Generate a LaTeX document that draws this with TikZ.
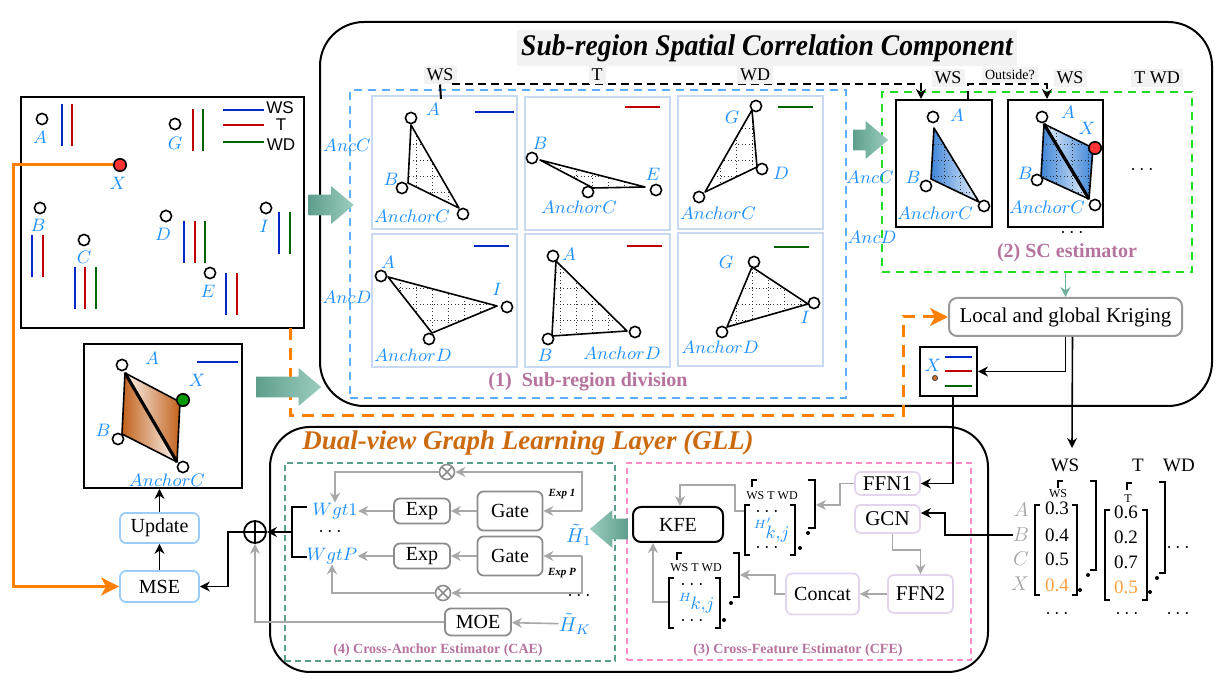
\documentclass[tikz,border=0pt]{standalone}
\usepackage{fontspec}
\usepackage{graphicx}
\setmainfont{Liberation Serif}
\newfontfamily\legfont{Liberation Sans}
\usetikzlibrary{positioning,calc,arrows.meta,shapes.arrows}

\definecolor{txtblue}{HTML}{1E90FF}
\definecolor{lnblue}{HTML}{0028C8}
\definecolor{lnred}{HTML}{C00000}
\definecolor{lngreen}{HTML}{006400}
\definecolor{xred}{HTML}{FF3333}
\definecolor{xgreen}{HTML}{009A00}
\definecolor{tealdk}{HTML}{5E9E8C}
\definecolor{teallt}{HTML}{9CCDC0}
\definecolor{tealarr}{HTML}{6FB0A0}
\definecolor{pinktxt}{HTML}{B5739D}
\definecolor{orangeln}{HTML}{FF8000}
\definecolor{xorange}{HTML}{E07020}
\definecolor{glltitle}{HTML}{CC6A10}
\definecolor{grayln}{HTML}{A8A8A8}
\definecolor{lblbg}{HTML}{F2F2F2}
\definecolor{panelbd}{HTML}{C8DAF2}
\definecolor{dashblue}{HTML}{5CAEFF}
\definecolor{dashgreen}{HTML}{22DD22}
\definecolor{dashteal}{HTML}{5A9E8E}
\definecolor{dashpink}{HTML}{FF8CC6}
\definecolor{boxblue}{HTML}{9ACDF8}
\definecolor{boxpurple}{HTML}{E3D5EE}
\definecolor{gatebd}{HTML}{8C8C8C}
\definecolor{krigbd}{HTML}{9A9A9A}
\definecolor{trifill}{HTML}{3F86D8}
\definecolor{quadfill}{HTML}{C2621C}
\definecolor{valorange}{HTML}{FFA040}

\tikzset{
  stn/.style={circle, draw=black, line width=0.8pt, fill=white, inner sep=0pt, minimum size=5.6pt},
  lbl/.style={text=txtblue, inner sep=0pt, font=\fontsize{9}{9}\selectfont},
  leg/.style={inner sep=0pt, font=\legfont\fontsize{8.5}{8.5}\selectfont},
  sbar/.style={line width=1pt},
  triln/.style={line width=0.8pt, line join=round},
  gridln/.style={line width=0.45pt, black!80, dash pattern=on 0.45pt off 1.3pt, step=8pt},
  panel/.style={draw=panelbd, line width=1pt, minimum width=72.5pt, minimum height=66.5pt, inner sep=0pt},
  fatarr/.style={single arrow, draw=none, inner sep=5pt, single arrow head extend=4.25pt,
    single arrow tip angle=80, left color=tealdk, right color=teallt},
  graybg/.style={fill=lblbg, inner sep=1.5pt, font=\fontsize{9}{9}\selectfont},
  dsh/.style={line width=0.8pt, dash pattern=on 4pt off 2.5pt},
  blk/.style={line width=0.8pt, -{Stealth[length=5pt,width=5pt]}},
  gry/.style={line width=0.8pt, color=grayln, -{Stealth[length=5pt,width=5pt]}},
  brk/.style={line width=0.9pt},
  bbox/.style={draw=boxblue, rounded corners=3pt, line width=0.9pt, inner sep=1pt, font=\fontsize{10}{10}\selectfont},
  gbox/.style={draw=gatebd, rounded corners=3pt, line width=0.9pt, inner sep=1pt, font=\fontsize{10}{10}\selectfont},
  pbox/.style={draw=boxpurple, rounded corners=3pt, line width=0.9pt, inner sep=1pt, font=\fontsize{10.5}{10.5}\selectfont},
  pinklbl/.style={text=pinktxt, inner sep=0pt, font=\fontsize{10}{10}\selectfont\bfseries},
  tinytxt/.style={inner sep=0pt, font=\fontsize{6}{6}\selectfont},
  oplusnd/.style={circle, draw, line width=0.9pt, minimum size=11pt, inner sep=0pt,
    path picture={\draw[line width=0.9pt] (path picture bounding box.north) -- (path picture bounding box.south)
      (path picture bounding box.west) -- (path picture bounding box.east);}},
  otimesnd/.style={circle, draw=gatebd, line width=0.8pt, minimum size=7.5pt, inner sep=0pt,
    path picture={\draw[gatebd, line width=0.8pt] (path picture bounding box.north west) -- (path picture bounding box.south east)
      (path picture bounding box.south west) -- (path picture bounding box.north east);}},
}

% dotted grid clipped to a region
\newcommand{\dotin}[1]{%
  \begin{scope}
    \clip #1;
    \draw[gridln] (0,683) grid (1223,0);
  \end{scope}}
\newcommand{\dottri}[3]{%
  \dotin{(#1) -- (#2) -- (#3) -- cycle}
  \draw[triln] (#1) -- (#2) -- (#3) -- cycle;}

\begin{document}
\begin{tikzpicture}[x=0.5pt,y=-0.5pt]
\useasboundingbox (0,0) rectangle (1223,683);

% ---------------- map of stations
\node[draw, line width=1pt, minimum width=141.5pt, minimum height=115.5pt, inner sep=0pt] (map) at (162.5,212.5) {};
\foreach \x/\ya/\c in {62/104/lnblue, 72/104/lnred, 193/109/lnred, 203/109/lngreen,
  32/235/lnblue, 43/235/lnred, 75/267/lnblue, 85/267/lnred, 96/267/lngreen,
  184/221/lnblue, 195/221/lnred, 205/221/lngreen, 226/273/lnblue, 237/273/lnred,
  279/212/lnblue, 290/212/lngreen}
  \draw[sbar,\c] (\x,\ya) -- (\x,\ya+42);
\draw[sbar,lnblue] (223,110) -- (264,110); \node[leg] (lgWS) at (280,108) {WS};
\draw[sbar,lnred] (223,125) -- (264,125); \node[leg] (lgT) at (281,125) {T};
\draw[sbar,lngreen] (223,142) -- (264,142); \node[leg] (lgWD) at (281,145) {WD};

\node[stn, fill=xred, minimum size=6.2pt] (mX) at (120,165) {};
\coordinate (oc1) at (13,165);
\node[stn] (mA) at (42,119) {};  \node[lbl] (lmA) at (40,137) {$A$};
\node[stn] (mG) at (175,124) {}; \node[lbl] (lmG) at (175,143) {$G$};
\node[lbl] (lmX) at (118,183) {$X$};
\node[stn] (mB) at (40,208) {};  \node[lbl] (lmB) at (38,225) {$B$};
\node[stn] (mC) at (84,240) {};  \node[lbl] (lmC) at (84,257) {$C$};
\node[stn] (mD) at (166,216) {}; \node[lbl] (lmD) at (163,234) {$D$};
\node[stn] (mE) at (210,273) {}; \node[lbl] (lmE) at (208,291) {$E$};
\node[stn] (mI) at (266,208) {}; \node[lbl] (lmI) at (264,226) {$I$};

% ---------------- sub-region spatial correlation component
\node[draw, line width=1pt, rounded corners=22pt, minimum width=446pt, minimum height=192pt, inner sep=0pt] (scc) at (766,214) {};
\node[fill=lblbg, inner sep=2pt, font=\fontsize{15}{15}\selectfont\bfseries\itshape] (scctitle) at (767,48)
  {\scalebox{0.92}[1]{Sub-region Spatial Correlation Component}};

\node[draw=dashblue, line width=1pt, dash pattern=on 4pt off 3pt, minimum width=248pt, minimum height=154pt, inner sep=0pt] (subbox) at (598,244) {};
\node[panel] (pn1) at (444.5,162.5) {};
\node[panel] (pn2) at (597,163.5) {};
\node[panel] (pn3) at (750,162.5) {};
\node[panel] (pn4) at (444.5,300.5) {};
\node[panel] (pn5) at (597,300.5) {};
\node[panel] (pn6) at (750,300) {};

% panel 1
\coordinate (t1a) at (411,125); \coordinate (t1b) at (408,183); \coordinate (t1c) at (459,208);
\dottri{t1a}{t1b}{t1c}
\node[stn] (s1a) at (411,118) {}; \node[stn] (s1b) at (402,188) {}; \node[stn] (s1c) at (463,214) {};
\node[lbl] (l1a) at (433,109) {$A$}; \node[lbl] (l1b) at (391,179) {$B$}; \node[lbl] (l1c) at (412,216) {$AnchorC$};
\draw[sbar,lnblue] (475,112) -- (514,112);
% panel 2
\coordinate (t2a) at (540,160); \coordinate (t2b) at (593,188); \coordinate (t2c) at (645,187);
\dottri{t2a}{t2b}{t2c}
\node[stn] (s2a) at (532,158) {}; \node[stn] (s2b) at (588,192) {}; \node[stn] (s2c) at (656,190) {};
\node[lbl] (l2a) at (540,143) {$B$}; \node[lbl] (l2b) at (579,207) {$AnchorC$}; \node[lbl] (l2c) at (653,174) {$E$};
\draw[sbar,lnred] (625,107) -- (660,107);
% panel 3
\coordinate (t3a) at (752,110); \coordinate (t3b) at (757,167); \coordinate (t3c) at (705,192);
\dottri{t3a}{t3b}{t3c}
\node[stn] (s3a) at (756,106) {}; \node[stn] (s3b) at (762,169) {}; \node[stn] (s3c) at (699,197) {};
\node[lbl] (l3a) at (732,117) {$G$}; \node[lbl] (l3b) at (781,173) {$D$}; \node[lbl] (l3c) at (718,213) {$AnchorC$};
\draw[sbar,lngreen] (778,107) -- (813,107);
% panel 4
\coordinate (t4a) at (388,277); \coordinate (t4b) at (497,306); \coordinate (t4c) at (432,333);
\dottri{t4a}{t4b}{t4c}
\node[stn] (s4a) at (381,276) {}; \node[stn] (s4b) at (507,307) {}; \node[stn] (s4c) at (429,339) {};
\node[lbl] (l4a) at (388,262) {$A$}; \node[lbl] (l4b) at (497,289) {$I$}; \node[lbl] (l4c) at (413,355) {$AnchorD$};
\draw[sbar,lnblue] (474,246) -- (509,246);
% panel 5
\coordinate (t5a) at (556,261); \coordinate (t5b) at (552,336); \coordinate (t5c) at (627,331);
\dottri{t5a}{t5b}{t5c}
\node[stn] (s5a) at (553,256) {}; \node[stn] (s5b) at (548,339) {}; \node[stn] (s5c) at (635,332) {};
\node[lbl] (l5a) at (569,254) {$A$}; \node[lbl] (l5b) at (545,355) {$B$}; \node[lbl] (l5c) at (622,353) {$AnchorD$};
\draw[sbar,lnred] (627,246) -- (662,246);
% panel 6
\coordinate (t6a) at (752,267); \coordinate (t6b) at (808,304); \coordinate (t6c) at (727,327);
\dottri{t6a}{t6b}{t6c}
\node[stn] (s6a) at (754,262) {}; \node[stn] (s6b) at (814,303) {}; \node[stn] (s6c) at (722,332) {};
\node[lbl] (l6a) at (726,262) {$G$}; \node[lbl] (l6b) at (805,317) {$I$}; \node[lbl] (l6c) at (720,347) {$AnchorD$};
\draw[sbar,lngreen] (774,247) -- (809,247);

\node[lbl] (ancc1) at (347,145) {$AncC$};
\node[lbl] (ancd1) at (347,297) {$AncD$};
\node[pinklbl] (subttl) at (588,382) {(1)\ \ Sub-region division};

% SC estimator
\node[draw=dashgreen, line width=1pt, dash pattern=on 4pt off 3pt, minimum width=155pt, minimum height=90pt, inner sep=0pt] (scest) at (1037,182) {};
\node[draw, line width=1pt, minimum width=48pt, minimum height=63.5pt, inner sep=0pt] (scb1) at (944,163.5) {};
\node[draw, line width=1pt, minimum width=47.5pt, minimum height=63.5pt, inner sep=0pt] (scb2) at (1055.5,163.5) {};
\coordinate (q1a) at (934,128); \coordinate (q1b) at (931,179); \coordinate (q1c) at (979,202);
\shade[left color=trifill, right color=trifill!12] (q1a) -- (q1b) -- (q1c) -- cycle;
\dottri{q1a}{q1b}{q1c}
\node[stn] (c1a) at (933,117) {}; \node[stn] (c1b) at (926,186) {}; \node[stn] (c1c) at (984,206) {};
\node[lbl] (k1a) at (957,115) {$A$}; \node[lbl] (k1b) at (913,177) {$B$}; \node[lbl] (k1c) at (935,213) {$AnchorC$};
\coordinate (q2a) at (1044,124); \coordinate (q2x) at (1093,148); \coordinate (q2c) at (1089,199); \coordinate (q2b) at (1041,177);
\shade[left color=trifill, right color=trifill!12] (q2a) -- (q2b) -- (q2c) -- cycle;
\shade[left color=trifill!12, right color=trifill] (q2a) -- (q2x) -- (q2c) -- cycle;
\dotin{(q2a) -- (q2x) -- (q2c) -- (q2b) -- cycle}
\draw[triln] (q2a) -- (q2x) -- (q2c) -- (q2b) -- cycle;
\draw[line width=1.6pt] (q2a) -- (q2c);
\node[stn] (c2a) at (1042,117) {}; \node[stn] (c2b) at (1037,180) {}; \node[stn] (c2c) at (1095,205) {};
\node[stn, fill=xred, minimum size=6.2pt] (c2x) at (1095,148) {};
\node[lbl] (k2a) at (1068,112) {$A$}; \node[lbl] (k2x) at (1087,128) {$X$}; \node[lbl] (k2b) at (1025,173) {$B$}; \node[lbl] (k2c) at (1047,207) {$AnchorC$};
\node[inner sep=0pt] (scdots1) at (1142,170) {$\cdots$};
\node[inner sep=0pt] (scdots2) at (1072,233) {$\cdots$};
\node[pinklbl] (scttl) at (1067,253) {(2) SC estimator};
\node[lbl] (ancc2) at (870,177) {$AncC$};
\node[lbl] (ancd2) at (872,237) {$AncD$};

% labels and dashed feature links on top
\node[graybg] (tWS) at (440,75) {WS};
\coordinate (dd0) at (452,84); \coordinate (dd1) at (921,84);
\draw[dsh, -{Stealth[length=5pt,width=5pt]}] (dd0) -- (dd1) -- (scb1.north -| dd1);
\coordinate (tk) at (441,99);
\draw[line width=1pt] (tWS.south) -- (tk);
\node[graybg] (tT) at (597,75) {T};
\node[graybg] (tWD) at (755,75) {WD};
\coordinate (dd2) at (968,84); \coordinate (dd3) at (1047,84);
\draw[dsh, -{Stealth[length=5pt,width=5pt]}] (scb1.north -| dd2) -- (dd2) -- (dd3) -- (scb2.north -| dd3);
\node[graybg] (tWS2) at (948,78) {WS};
\node[graybg, font=\fontsize{7}{7}\selectfont] (tOut) at (1010,75) {Outside?};
\node[graybg] (tWS3) at (1070,78) {WS};
\node[graybg] (tTWD) at (1157,78) {T WD};

% kriging
\node[draw=krigbd, rounded corners=4pt, line width=1pt, minimum width=116.5pt, minimum height=19pt, inner sep=1pt,
  font=\fontsize{10.5}{10.5}\selectfont] (krig) at (1065.5,317) {Local and global Kriging};
\draw[line width=0.9pt, color=tealarr, -{Stealth[length=5pt,width=5pt]}] (krig.north |- scest.south) -- (krig.north);
\node[draw, line width=1pt, minimum width=28.5pt, minimum height=24.5pt, inner sep=0pt] (xbox) at (948.5,371.5) {};
\node[lbl] (xlbl) at (933,365) {$X$};
\node[circle, fill=xorange, draw=black!70, line width=0.5pt, inner sep=0pt, minimum size=2.5pt] (xdot) at (935,378) {};
\draw[sbar,lnblue] (945,357) -- (972,357);
\draw[sbar,lnred] (945,371) -- (972,371);
\draw[sbar,lngreen] (945,386) -- (972,386);
\draw[blk] (krig.south) |- (xbox);
\coordinate (mtop) at (1072,448);
\draw[blk] ([xshift=3.5pt]krig.south) -- (mtop);

% orange links
\coordinate (od1) at (290,328); \coordinate (od2) at (903,416);
\draw[orangeln, line width=1.5pt, dash pattern=on 6pt off 4pt, -{Stealth[length=9pt,width=9pt,inset=2.5pt]}]
  (od1) |- (od2) |- (krig.west);

% ---------------- updated sub-region
\node[draw, line width=1pt, minimum width=79pt, minimum height=72pt, inner sep=0pt] (blbox) at (163,416) {};
\coordinate (q3a) at (125,373); \coordinate (q3x) at (180,402); \coordinate (q3c) at (177,462); \coordinate (q3b) at (122,434);
\shade[left color=quadfill, right color=quadfill!6] (q3a) -- (q3b) -- (q3c) -- cycle;
\shade[left color=quadfill!6, right color=quadfill] (q3a) -- (q3x) -- (q3c) -- cycle;
\draw[triln] (q3a) -- (q3x) -- (q3c) -- (q3b) -- cycle;
\draw[line width=1.6pt] (q3a) -- (q3c);
\node[stn] (b3a) at (122,365) {}; \node[stn] (b3b) at (118,439) {}; \node[stn] (b3c) at (183,467) {};
\node[stn, fill=xgreen, minimum size=6.2pt] (b3x) at (183,400) {};
\node[lbl] (u3a) at (152,358) {$A$}; \node[lbl] (u3x) at (197,380) {$X$}; \node[lbl] (u3b) at (103,430) {$B$}; \node[lbl] (u3c) at (167,480) {$AnchorC$};
\draw[sbar,lnblue] (197,362) -- (238,362);

\node[bbox, minimum width=39.5pt, minimum height=15pt] (upd) at (159.5,528) {Update};
\node[bbox, minimum width=39.5pt, minimum height=15.5pt] (mse) at (159.5,586.5) {MSE};
\draw[blk] (upd.north) -- (upd.north |- blbox.south);
\draw[blk] (mse) -- (upd);
\draw[orangeln, line width=1.5pt, -{Stealth[length=9pt,width=9pt,inset=2.5pt]}] (mX) -- (oc1) |- (mse);

% ---------------- dual-view graph learning layer
\node[draw, line width=1pt, rounded corners=20pt, minimum width=359pt, minimum height=122.5pt, inner sep=0pt] (gll) at (629,549.5) {};
\node[text=glltitle, inner sep=0pt, font=\fontsize{13.5}{13.5}\selectfont\bfseries\itshape] (glltitle) at (528,443) {Dual-view Graph Learning Layer (GLL)};
\node[draw=dashteal, line width=0.8pt, dash pattern=on 3pt off 2pt, minimum width=165pt, minimum height=99pt, inner sep=0pt] (cae) at (450,562) {};
\node[draw=dashpink, line width=0.8pt, dash pattern=on 3pt off 2pt, minimum width=172pt, minimum height=98.5pt, inner sep=0pt] (cfe) at (799,561.5) {};
\node[pinklbl, font=\fontsize{7}{7}\selectfont\bfseries] (caettl) at (438,650) {(4) Cross-Anchor Estimator (CAE)};
\node[pinklbl, font=\fontsize{7}{7}\selectfont\bfseries] (cfettl) at (798,650) {(3) Cross-Feature Estimator (CFE)};

% cross-anchor estimator
\node[otimesnd] (otop) at (447,472) {};
\node[otimesnd] (obot) at (443,593) {};
\node[gbox, minimum width=32.5pt, minimum height=19.5pt] (gate1) at (510,511) {Gate};
\node[gbox, minimum width=32.5pt, minimum height=19.5pt] (gate2) at (510,556) {Gate};
\node[gbox, minimum width=28pt, minimum height=12.5pt] (exp1) at (422,511) {Exp};
\node[gbox, minimum width=28pt, minimum height=12.5pt] (exp2) at (422,556) {Exp};
\node[gbox, minimum width=33pt, minimum height=13.5pt] (moe) at (478,622) {MOE};
\node[lbl, font=\fontsize{9.5}{9.5}\selectfont] (wgt1) at (335,511) {$Wgt1$};
\node[inner sep=0pt] (wgtd) at (330,532) {$\cdots$};
\node[lbl, font=\fontsize{9.5}{9.5}\selectfont] (wgtp) at (332,556) {$WgtP$};
\node[lbl, font=\fontsize{10}{10}\selectfont] (h1) at (579,535) {$\tilde{H}_1$};
\node[inner sep=0pt] (hdots) at (579,596) {$\cdots$};
\node[lbl, font=\fontsize{10}{10}\selectfont] (hK) at (575,624) {$\tilde{H}_K$};
\node[inner sep=0pt, font=\fontsize{5.5}{5.5}\selectfont\bfseries\itshape] (ex1) at (562,494) {Exp 1};
\node[inner sep=0pt, font=\fontsize{5.5}{5.5}\selectfont\bfseries\itshape] (exP) at (562,573) {Exp P};
\coordinate (sp2) at (582,511); \coordinate (sp3) at (582,556);
\draw[gry] (sp2) |- (otop);
\draw[gry] (sp2) -- (gate1);
\draw[gry] (sp3) -- (gate2);
\draw[gry] (sp3) |- (obot);
\draw[gry] (gate1) -- (exp1);
\draw[gry] (exp1) -- (wgt1);
\draw[gry] (gate2) -- (exp2);
\draw[gry] (exp2) -- (wgtp);
\draw[gry] (otop) -| (wgt1);
\draw[gry] (obot) -| (wgtp);
\draw[gry] (hK) -- (moe);
\node[oplusnd] (oplus) at (255,532) {};
\draw[gry] (moe) -| (oplus);
\coordinate (br1) at (307,507); \coordinate (brm) at (292,532); \coordinate (br2) at (307,557);
\draw[line width=0.9pt] (br1) -| (brm) |- (br2);
\draw[blk] (brm) -- (oplus);
\coordinate (obend) at (228,532);
\draw[blk] (oplus) -- (obend) |- (mse);

% cross-feature estimator
\node[pbox, minimum width=32.5pt, minimum height=11.5pt] (ffn1) at (887.5,483.5) {FFN1};
\node[pbox, minimum width=32.5pt, minimum height=14pt] (gcn) at (887.5,519) {GCN};
\node[pbox, minimum width=32.5pt, minimum height=19pt] (ffn2) at (920.5,594) {FFN2};
\node[pbox, minimum width=36.5pt, minimum height=20.5pt, font=\fontsize{10}{10}\selectfont] (concat) at (822.5,594) {Concat};
\node[draw, rounded corners=4pt, line width=1pt, minimum width=45pt, minimum height=17.5pt, inner sep=1pt,
  font=\fontsize{10}{10}\selectfont] (kfe) at (678,524.5) {KFE};
% H' stack
\draw[brk] (750,505) -| (745,555) -- (750,555);
\draw[brk] (790,505) -| (795,555) -- (790,555);
\draw[brk] (752,487) |- (757,480);
\draw[brk] (808,480) -| (815,528) -- (808,528);
\fill (808,533) circle (1pt); \fill (800,548) circle (1pt);
\node[tinytxt] (hpws) at (772,496) {WS T WD};
\node[inner sep=0pt] (hpd1) at (767,512) {$\cdots$};
\node[lbl] (hpv) at (772,530) {$\scriptstyle H'_{\textstyle k,\!j}$};
\node[inner sep=0pt] (hpd2) at (767,548) {$\cdots$};
% H stack
\draw[brk] (674,578) -| (669,628) -- (674,628);
\draw[brk] (715,578) -| (720,628) -- (715,628);
\draw[brk] (677,560) |- (682,553);
\draw[brk] (733,553) -| (739,597) -- (733,597);
\fill (731,603) circle (1pt); \fill (724,620) circle (1pt);
\node[tinytxt] (hws) at (696,568) {WS T WD};
\node[inner sep=0pt] (hd1) at (692,585) {$\cdots$};
\node[lbl] (hv) at (697,603) {$\scriptstyle H_{\textstyle k,\!j}$};
\node[inner sep=0pt] (hd2) at (692,621) {$\cdots$};

\coordinate (hpb) at (816,505); \coordinate (cf1) at (840,505);
\draw[gry] (ffn1) -| (cf1) -- (hpb);
\coordinate (hpf) at (744,511); \coordinate (cf2) at (735,485); \coordinate (cf3) at (680,485);
\draw[gry] (hpf) -| (cf2) -- (cf3) -- (kfe.north -| cf3);
\coordinate (cf4) at (920.5,550);
\draw[gry] ([xshift=2.5pt]gcn.south) |- (cf4) -- (ffn2);
\draw[gry] (ffn2) -- (concat);
\coordinate (hb) at (740,575); \coordinate (cf5) at (775,575);
\draw[gry] (concat) -| (cf5) -- (hb);
\coordinate (hf) at (668,602); \coordinate (cf6) at (653,602);
\draw[gry] (hf) -- (cf6) -- (kfe.south -| cf6);
\draw[blk] ([xshift=2.25pt]xbox.south) |- (ffn1);

% ---------------- kriging output matrices
\node[inner sep=0pt, font=\fontsize{9.5}{9.5}\selectfont] (mWS) at (1065,465) {WS};
\node[inner sep=0pt, font=\fontsize{9.5}{9.5}\selectfont] (mT) at (1138,465) {T};
\node[inner sep=0pt, font=\fontsize{9.5}{9.5}\selectfont] (mWD) at (1179,465) {WD};
\node[lbl, text=grayln, font=\fontsize{10}{10}\selectfont] (rA) at (1021,510) {$A$};
\node[lbl, text=grayln, font=\fontsize{10}{10}\selectfont] (rB) at (1021,535) {$B$};
\node[lbl, text=grayln, font=\fontsize{10}{10}\selectfont] (rC) at (1021,559) {$C$};
\node[lbl, text=grayln, font=\fontsize{10}{10}\selectfont] (rX) at (1020,584) {$X$};
\draw[brk] (1040,505) -| (1035,595) -- (1040,595);
\draw[brk] (1072,505) -| (1077,595) -- (1072,595);
\draw[brk] (1058,488) |- (1063,481);
\draw[brk] (1090,481) -| (1096,570) -- (1090,570);
\fill (1088,575) circle (1pt); \fill (1080,590) circle (1pt);
\node[tinytxt] (mws2) at (1058,494) {WS};
\draw[brk] (1110,510) -| (1105,600) -- (1110,600);
\draw[brk] (1142,510) -| (1147,600) -- (1142,600);
\draw[brk] (1127,490) |- (1132,483);
\draw[brk] (1159,482) -| (1165,573) -- (1159,573);
\fill (1157,578) circle (1pt); \fill (1150,592) circle (1pt);
\node[tinytxt] (mt2) at (1128,499) {T};
\foreach \v/\y [count=\i] in {0.3/508, 0.4/535, 0.5/559}
  \node[inner sep=0pt, font=\fontsize{9.5}{9.5}\selectfont] (vw\i) at (1057,\y) {\v};
\node[inner sep=0pt, text=valorange, font=\fontsize{9.5}{9.5}\selectfont] (vw4) at (1057,585) {0.4};
\foreach \v/\y [count=\i] in {0.6/512, 0.2/537, 0.7/562}
  \node[inner sep=0pt, font=\fontsize{9.5}{9.5}\selectfont] (vt\i) at (1126,\y) {\v};
\node[inner sep=0pt, text=valorange, font=\fontsize{9.5}{9.5}\selectfont] (vt4) at (1126,587) {0.5};
\node[inner sep=0pt] (md0) at (1178,548) {$\cdots$};
\node[inner sep=0pt] (md1) at (1057,614) {$\cdots$};
\node[inner sep=0pt] (md2) at (1127,614) {$\cdots$};
\node[inner sep=0pt] (md3) at (1178,614) {$\cdots$};
\coordinate (gb) at (945,535);
\draw[blk] (rB) -- (gb) |- ([yshift=3pt]gcn.east);

% ---------------- fat arrows
\node[fatarr, minimum height=22.5pt] (arr1) at (325,205) {};
\node[fatarr, minimum height=17.5pt] (arr2) at (864.5,140) {};
\node[fatarr, minimum height=32.5pt] (arr3) at (282.5,387) {};
\node[fatarr, minimum height=19pt, shape border rotate=180, left color=teallt, right color=tealdk] (arr4) at (615,529) {};
\end{tikzpicture}
\end{document}
